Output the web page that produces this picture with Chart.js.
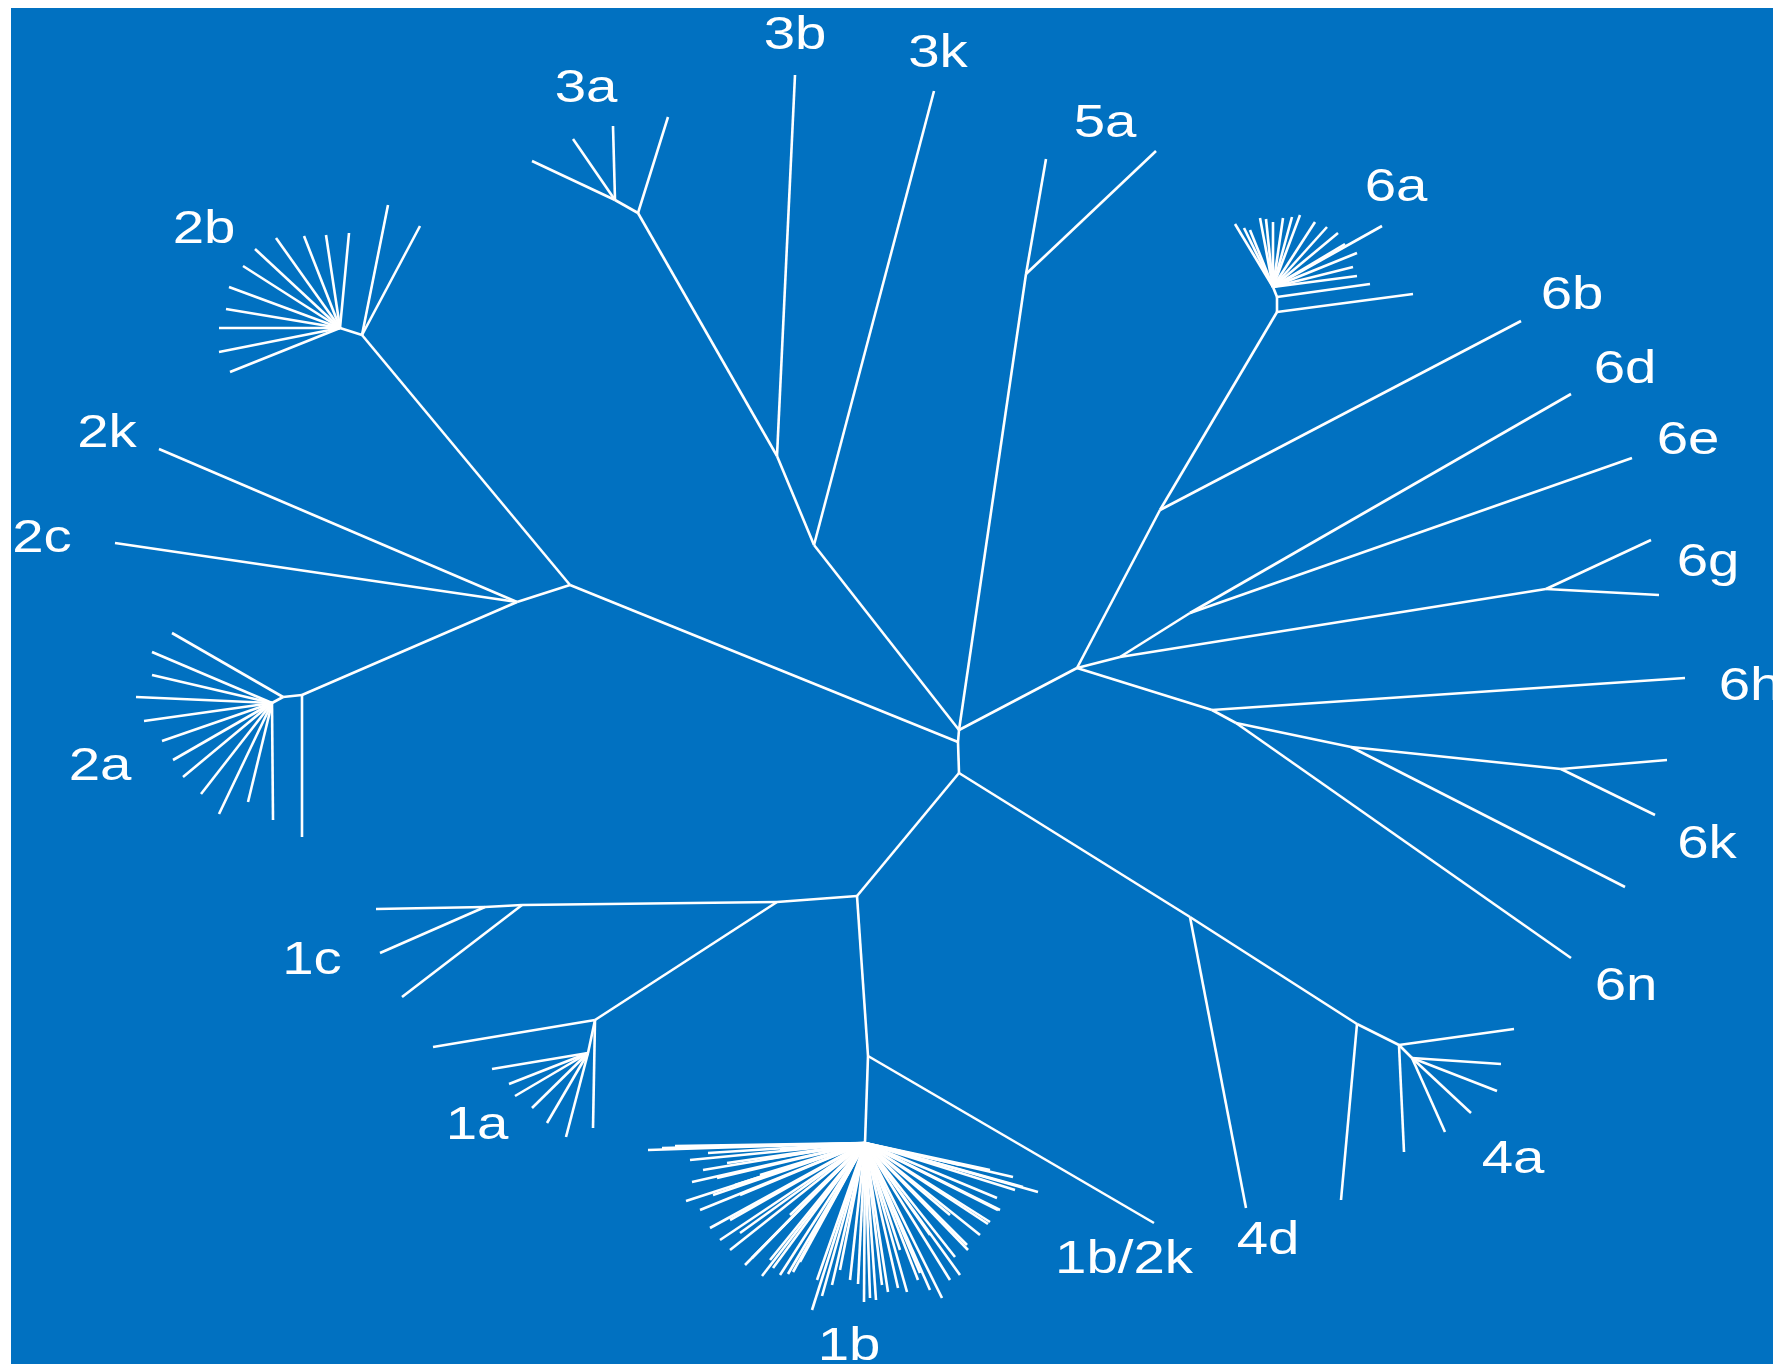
<!DOCTYPE html>
<html>
<head>
<meta charset="utf-8">
<script src="https://cdn.jsdelivr.net/npm/chart.js@4.4.0/dist/chart.umd.min.js"></script>
<style>
  html, body { margin: 0; padding: 0; background: #ffffff; }
  #wrap { width: 1773px; height: 1364px; }
</style>
</head>
<body>
<div id="wrap"><canvas id="treeChart" width="1773" height="1364"></canvas></div>
<script>
// Noeuds internes de l'arbre (coordonnées)
const nodeIds = ['C1', 'C1b', 'C2', 'N2', 'N2kc', 'N2a', 'N2a1', 'N2af', 'N2b', 'N2bf',
  'N3k', 'N3b', 'N3a2', 'N3a1', 'N5a', 'N6', 'N6s', 'N6de', 'N6g', 'N6b', 'N6a1', 'N6a2', 'N6af',
  'N6h', 'N6h2', 'N6k1', 'N6k', 'N4d', 'N4m', 'N4a', 'N4a2', 'N1', 'N1a', 'N1c2', 'N1c1',
  'N1aa', 'N1ab', 'N1b2k', 'N1b'];
const nodeX = [959, 958, 959, 570, 517, 302, 283, 272, 362, 340,
  814, 777, 638, 615, 1026, 1077, 1120, 1190, 1546, 1160, 1277, 1277, 1273,
  1212, 1236, 1351, 1561, 1190, 1357, 1399, 1412, 857, 777, 522, 485,
  595, 588, 868, 865];
const nodeY = [730, 742, 773, 585, 602, 695, 697, 703, 335, 328,
  545, 456, 213, 200, 274, 668, 657, 613, 589, 510, 312, 297, 287,
  710, 723, 747, 769, 917, 1024, 1045, 1058, 896, 902, 905, 907,
  1020, 1053, 1056, 1143];

// Branches entre noeuds internes
const branchFrom = ['C1', 'C1b', 'C1b', 'C1', 'C1', 'C1', 'C2', 'C2', 'N4d', 'N4m', 'N4a',
  'N1', 'N1a', 'N1c2', 'N1a', 'N1aa', 'N1', 'N1b2k', 'N2', 'N2kc', 'N2a', 'N2a1', 'N2', 'N2b',
  'N3k', 'N3b', 'N3a2', 'N6', 'N6s', 'N6s', 'N6', 'N6b', 'N6a1', 'N6a2', 'N6', 'N6h', 'N6h2', 'N6k1'];
const branchTo = ['C1b', 'C2', 'N2', 'N3k', 'N5a', 'N6', 'N1', 'N4d', 'N4m', 'N4a', 'N4a2',
  'N1a', 'N1c2', 'N1c1', 'N1aa', 'N1ab', 'N1b2k', 'N1b', 'N2kc', 'N2a', 'N2a1', 'N2af', 'N2b', 'N2bf',
  'N3b', 'N3a2', 'N3a1', 'N6s', 'N6de', 'N6g', 'N6b', 'N6a1', 'N6a2', 'N6af', 'N6h', 'N6h2', 'N6k1', 'N6k'];

// Feuilles du groupe 1b (nombreuses, toutes issues du noeud N1b)
const leaf1bX = [648, 662, 675, 690, 708, 703, 727, 692, 717, 686, 713, 700, 710, 730, 720, 740,
  730, 745, 752, 762, 770, 773, 780, 788, 793, 800, 812, 817, 822, 832, 840, 850, 858, 864, 870,
  876, 882, 888, 898, 907, 918, 920, 930, 942, 950, 960, 955, 967, 968, 980, 988, 990, 998, 1000,
  997, 1015, 1023, 1038, 1013, 990, 960, 820, 760, 740, 790, 810, 900, 930, 950, 735, 760, 780];
const leaf1bY = [1150, 1148, 1146, 1160, 1153, 1170, 1163, 1182, 1178, 1201, 1195, 1210, 1228, 1220,
  1240, 1233, 1250, 1265, 1258, 1276, 1260, 1268, 1275, 1274, 1272, 1262, 1310, 1280, 1296, 1285,
  1270, 1280, 1284, 1302, 1298, 1300, 1285, 1292, 1288, 1292, 1280, 1273, 1290, 1298, 1280, 1275,
  1257, 1245, 1250, 1235, 1224, 1222, 1210, 1210, 1198, 1190, 1187, 1192, 1177, 1170, 1165, 1153,
  1175, 1195, 1215, 1240, 1250, 1235, 1215, 1185, 1160, 1150];

// Autres feuilles : noeud parent + extrémité
const leafFrom = [
  'N1c1', 'N1c1', 'N1c2',
  'N1aa', 'N1aa', 'N1ab', 'N1ab', 'N1ab', 'N1ab', 'N1ab', 'N1ab',
  'N1b2k',
  'N2kc', 'N2kc', 'N2a', 'N2a1',
  'N2af', 'N2af', 'N2af', 'N2af', 'N2af', 'N2af', 'N2af', 'N2af', 'N2af', 'N2af', 'N2af',
  'N2b', 'N2b',
  'N2bf', 'N2bf', 'N2bf', 'N2bf', 'N2bf', 'N2bf', 'N2bf', 'N2bf', 'N2bf', 'N2bf', 'N2bf',
  'N3k', 'N3b', 'N3a2', 'N3a1', 'N3a1', 'N3a1',
  'N5a', 'N5a',
  'N6b', 'N6a1', 'N6a2',
  'N6af', 'N6af', 'N6af', 'N6af', 'N6af', 'N6af', 'N6af', 'N6af', 'N6af', 'N6af', 'N6af', 'N6af', 'N6af',
  'N6af', 'N6af', 'N6af', 'N6af',
  'N6de', 'N6de', 'N6g', 'N6g', 'N6h', 'N6h2', 'N6k1', 'N6k', 'N6k',
  'N4d', 'N4m', 'N4a', 'N4a', 'N4a2', 'N4a2', 'N4a2', 'N4a2'];
const leafX = [
  376, 380, 402,
  433, 593, 492, 509, 515, 532, 547, 566,
  1154,
  159, 115, 302, 172,
  152, 152, 136, 144, 162, 173, 183, 201, 219, 248, 273,
  388, 420,
  230, 219, 219, 226, 229, 243, 255, 276, 304, 326, 349,
  934, 795, 668, 613, 573, 532,
  1046, 1156,
  1521, 1413, 1370,
  1235, 1250, 1260, 1273, 1283, 1300, 1315, 1327, 1338, 1382, 1357, 1353, 1357,
  1244, 1266, 1292, 1345,
  1571, 1632, 1651, 1659, 1685, 1571, 1625, 1667, 1655,
  1246, 1341, 1404, 1514, 1501, 1497, 1471, 1445];
const leafY = [
  909, 953, 997,
  1047, 1128, 1069, 1084, 1096, 1108, 1123, 1137,
  1223,
  449, 543, 837, 633,
  652, 675, 697, 721, 741, 760, 777, 794, 814, 802, 820,
  205, 226,
  372, 352, 328, 309, 287, 266, 249, 238, 236, 235, 233,
  91, 75, 117, 126, 139, 161,
  159, 151,
  321, 294, 284,
  224, 230, 218, 222, 218, 215, 222, 227, 233, 226, 253, 267, 276,
  228, 219, 217, 244,
  394, 458, 540, 595, 678, 958, 887, 760, 815,
  1208, 1200, 1152, 1029, 1064, 1091, 1113, 1132];

// Étiquettes des génotypes (ligne de base du texte)
const labelText = ['3b', '3k', '3a', '5a', '2b', '2k', '2c', '2a', '1c', '1a', '1b', '1b/2k', '4d', '4a',
  '6a', '6b', '6d', '6e', '6g', '6h', '6k', '6n'];
const labelX = [795, 938, 586, 1105, 204, 107, 42, 100, 312, 477, 849, 1124, 1268, 1513,
  1396, 1572, 1625, 1688, 1708, 1750, 1707, 1626];
const labelY = [49, 67, 102, 137, 243, 447, 552, 780, 974, 1139, 1360, 1273, 1254, 1173,
  201, 309, 383, 454, 576, 700, 858, 1000];

function nodePoint(id) {
    let i = nodeIds.indexOf(id);
    return { x: nodeX[i], y: nodeY[i] };
}

// Construire un dataset par segment
let datasets = [];
function addSegment(p1, p2, width) {
    datasets.push({
        data: [p1, p2],
        showLine: true,
        borderColor: '#ffffff',
        borderWidth: width,
        pointRadius: 0,
        pointHoverRadius: 0,
        fill: false
    });
}
branchFrom.forEach(function(id, i) {
    addSegment(nodePoint(id), nodePoint(branchTo[i]), 2.6);
});
leafFrom.forEach(function(id, i) {
    addSegment(nodePoint(id), { x: leafX[i], y: leafY[i] }, 2.6);
});
leaf1bX.forEach(function(x, i) {
    addSegment(nodePoint('N1b'), { x: x, y: leaf1bY[i] }, 2.6);
});

// Fond bleu + étiquettes
const backgroundPlugin = {
    id: 'bluePanel',
    beforeDatasetsDraw(chart) {
        let c = chart.ctx;
        let xs = chart.scales.x, ys = chart.scales.y;
        let left = xs.getPixelForValue(11), top = ys.getPixelForValue(8);
        c.save();
        c.fillStyle = '#0171c1';
        c.fillRect(left, top, chart.width - left, chart.height - top);
        c.restore();
    },
    afterDatasetsDraw(chart) {
        let c = chart.ctx;
        let xs = chart.scales.x, ys = chart.scales.y;
        c.save();
        c.fillStyle = '#ffffff';
        c.font = '47px "Liberation Sans", Arial, sans-serif';
        c.textAlign = 'center';
        c.textBaseline = 'alphabetic';
        labelText.forEach(function(t, i) {
            c.save();
            c.translate(xs.getPixelForValue(labelX[i]), ys.getPixelForValue(labelY[i]));
            c.scale(1.2, 1);
            c.fillText(t, 0, 0);
            c.restore();
        });
        c.restore();
    }
};

new Chart(document.getElementById('treeChart').getContext('2d'), {
    type: 'scatter',
    data: { datasets: datasets },
    options: {
        responsive: false,
        animation: false,
        devicePixelRatio: 1,
        layout: { padding: 0 },
        plugins: { legend: { display: false }, tooltip: { enabled: false } },
        events: [],
        scales: {
            x: { type: 'linear', min: 0, max: 1773, display: false },
            y: { type: 'linear', min: 0, max: 1364, reverse: true, display: false }
        }
    },
    plugins: [backgroundPlugin]
});
</script>
</body>
</html>
